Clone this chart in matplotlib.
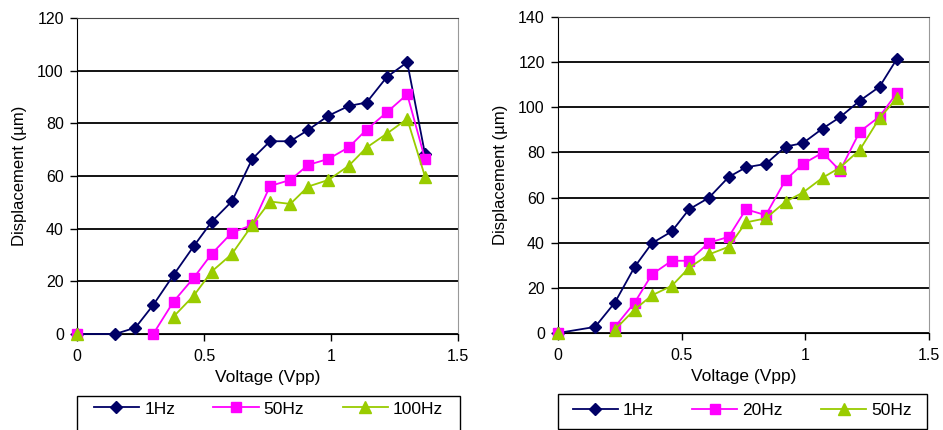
import matplotlib
matplotlib.use('Agg')
import matplotlib.pyplot as plt
import numpy as np
from matplotlib.patches import Rectangle
from matplotlib.ticker import MultipleLocator

plt.rcParams['font.family'] = ['Liberation Sans', 'DejaVu Sans']
plt.rcParams['font.size'] = 11

# left chart (None = no reading, line broken there)
volt_a = [0, 0.15, 0.23, 0.30, 0.38, 0.46, 0.53, 0.61, 0.69, 0.76,
          0.84, 0.91, 0.99, 1.07, 1.14, 1.22, 1.30, 1.37]
disp_a_1hz = [0, 0, 2.4, 11, 22.4, 33.4, 42.6, 50.4, 66.5, 73.2,
              73.2, 77.5, 82.9, 86.6, 87.9, 97.6, 103.2, 68.4]
disp_a_50hz = [0, None, None, 0, 12.3, 21.4, 30.4, 38.5, 41.4, 56.2,
               58.5, 64.2, 66.5, 70.9, 77.6, 84.2, 91.0, 66.5]
disp_a_100hz = [0, None, None, None, 6.6, 14.6, 23.7, 30.4, 41.4, 50.3,
                49.4, 56, 58.5, 63.9, 70.8, 76.1, 81.7, 59.8]
labels_a = ['1Hz', '50Hz', '100Hz']

# right chart
volt_b = [0, 0.15, 0.23, 0.31, 0.38, 0.46, 0.53, 0.61, 0.69, 0.76,
          0.84, 0.92, 0.99, 1.07, 1.14, 1.22, 1.30, 1.37]
disp_b_1hz = [0, 2.7, 13.5, 29.3, 39.8, 45.0, 54.8, 59.9, 69.1, 73.4,
              74.9, 82.6, 84.1, 90.6, 95.6, 102.9, 109.1, 121.4]
disp_b_20hz = [0, None, 2.7, 13.5, 26.0, 32.0, 32.0, 40.0, 42.6, 54.8,
               52.2, 67.8, 74.9, 79.9, 71.9, 89.2, 95.9, 106.3]
disp_b_50hz = [0, None, 1.5, 10.4, 16.7, 20.9, 28.9, 34.8, 38.2, 49.0,
               50.8, 58.2, 62.2, 68.8, 73.3, 81.1, 95.2, 104.0]
labels_b = ['1Hz', '20Hz', '50Hz']

NAVY = '#000066'
PINK = '#ff00ff'
GREEN = '#99cc00'

W, H = 943, 430
fig = plt.figure(figsize=(W / 100, H / 100), dpi=100)


def make_axes(x0, x1, y0, y1):
    return fig.add_axes([x0 / W, 1 - y1 / H, (x1 - x0) / W, (y1 - y0) / H])


def style(ax, ymax):
    ax.set_xlim(0, 1.5)
    ax.set_ylim(0, ymax)
    ax.yaxis.set_major_locator(MultipleLocator(20))
    ax.set_xticks([0, 0.5, 1, 1.5])
    ax.set_xticklabels(['0', '0.5', '1', '1.5'])
    ax.grid(axis='y', color='black', linewidth=1.3)
    ax.set_axisbelow(True)
    ax.tick_params(direction='out', length=5, width=1, colors='black',
                   labelsize=11.5)
    ax.tick_params(axis='x', pad=6)
    ax.tick_params(axis='y', pad=4.5)
    ax.spines['right'].set_color('#999999')
    ax.spines['top'].set_color('#444444')
    ax.spines['top'].set_linewidth(0.8)
    ax.set_xlabel('Voltage (Vpp)', fontsize=12.5, labelpad=4)
    ax.set_ylabel('Displacement (µm)', fontsize=12, labelpad=7)


def draw(ax, xs, series, labels):
    markers = [('D', 6), ('s', 7.5), ('^', 8.5)]
    colors = [NAVY, PINK, GREEN]
    handles = []
    for ys, lab, (m, ms), c in zip(series, labels, markers, colors):
        ys = np.array([np.nan if v is None else v for v in ys], dtype=float)
        h, = ax.plot(xs, ys, color=c, linewidth=1.3, marker=m, markersize=ms,
                     markerfacecolor=c, markeredgecolor=c, label=lab,
                     clip_on=False, zorder=3)
        handles.append(h)
    return handles


ax1 = make_axes(77, 458, 18, 334)
h1 = draw(ax1, volt_a, [disp_a_1hz, disp_a_50hz, disp_a_100hz], labels_a)
style(ax1, 120)

ax2 = make_axes(558, 929, 17, 333)
h2 = draw(ax2, volt_b, [disp_b_1hz, disp_b_20hz, disp_b_50hz], labels_b)
style(ax2, 140)


def legend(handles, x0, x1, y0, y1, yc):
    fig.patches.append(Rectangle((x0 / W, 1 - y1 / H), (x1 - x0) / W, (y1 - y0) / H,
                                 transform=fig.transFigure, fill=False,
                                 edgecolor='black', linewidth=1.0))
    fig.legend(handles=handles, loc='center', ncol=3,
               bbox_to_anchor=((x0 + x1) / 2 / W, 1 - yc / H),
               frameon=False, fontsize=12.5, handlelength=2.6,
               handletextpad=0.3, borderpad=0, columnspacing=2.2)


legend(h1, 77, 460, 396, 432, 409)
legend(h2, 558, 927, 394, 429, 410)

fig.savefig('out.png', dpi=100)
